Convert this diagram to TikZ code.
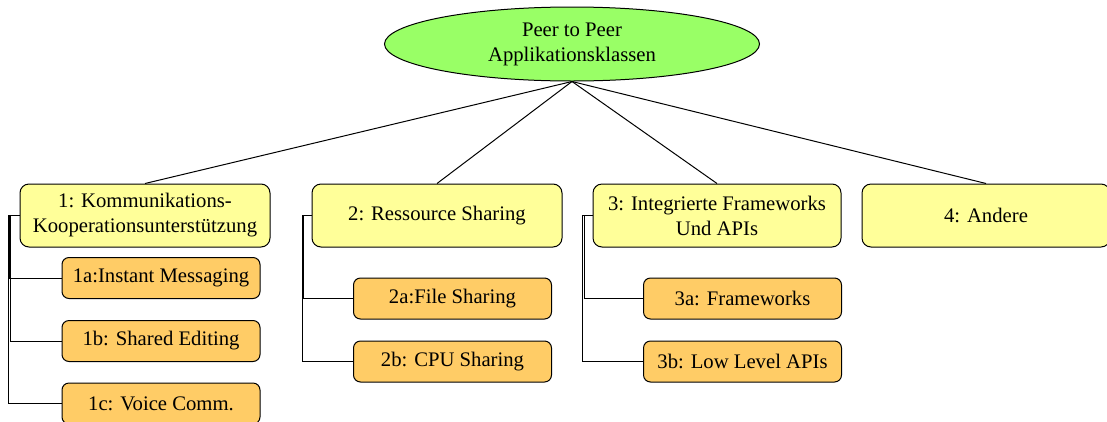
\documentclass[tikz,border=0pt]{standalone}
\usepackage{fontspec}
\setmainfont{Liberation Serif}
\usetikzlibrary{shapes.geometric}
\definecolor{rootgreen}{HTML}{99FF66}
\definecolor{boxyellow}{HTML}{FFFF99}
\definecolor{boxorange}{HTML}{FFCC66}
\tikzset{
  base/.style={draw=black, line width=1pt, align=center, inner sep=0pt,
    font=\fontsize{20.7}{25}\selectfont},
  root/.style={base, ellipse, fill=rootgreen, minimum width=375pt, minimum height=74pt},
  mainbox/.style={base, rounded corners=9pt, fill=boxyellow, minimum height=63pt},
  subbox/.style={base, rounded corners=7pt, fill=boxorange, minimum width=198pt, minimum height=41pt},
  conn/.style={draw=black, line width=1pt},
}
\begin{document}
\begin{tikzpicture}[x=1pt,y=-1pt]
\useasboundingbox (0,0) rectangle (1107,421);
\node[root] (root) at (572,44) {Peer to Peer\\Applikationsklassen};

\node[mainbox, minimum width=250pt] (b1) at (145,215.5) {1: Kommunikations-\\Kooperationsunterstützung};
\node[mainbox, minimum width=250pt] (b2) at (437,215.5) {2: Ressource Sharing};
\node[mainbox, minimum width=248pt] (b3) at (717,215.5) {3: Integrierte Frameworks\\Und APIs};
\node[mainbox, minimum width=248pt] (b4) at (986,215.5) {4: Andere};

\node[subbox] (c1a) at (161,278) {1a:Instant Messaging};
\node[subbox] (c1b) at (161,341) {1b: Shared Editing};
\node[subbox] (c1c) at (161,403.5) {1c: Voice Comm.};
\node[subbox] (c2a) at (452.5,298.5) {2a:File Sharing};
\node[subbox] (c2b) at (452.5,361.5) {2b: CPU Sharing};
\node[subbox] (c3a) at (742.5,298.5) {3a: Frameworks};
\node[subbox] (c3b) at (742.5,361.5) {3b: Low Level APIs};

\foreach \b in {b1,b2,b3,b4}
  \draw[conn] (root.south) -- (\b.north);

\draw[conn] (b1.west) -- ++(-10,0) |- (c1a.west);
\draw[conn] (b1.west) -- ++(-9,0) |- (c1b.west);
\draw[conn] (b1.west) -- ++(-11,0) |- (c1c.west);
\draw[conn] (b2.west) -- ++(-8.5,0) |- (c2a.west);
\draw[conn] (b2.west) -- ++(-9.5,0) |- (c2b.west);
\draw[conn] (b3.west) -- ++(-8.5,0) |- (c3a.west);
\draw[conn] (b3.west) -- ++(-10,0) |- (c3b.west);
\end{tikzpicture}
\end{document}
